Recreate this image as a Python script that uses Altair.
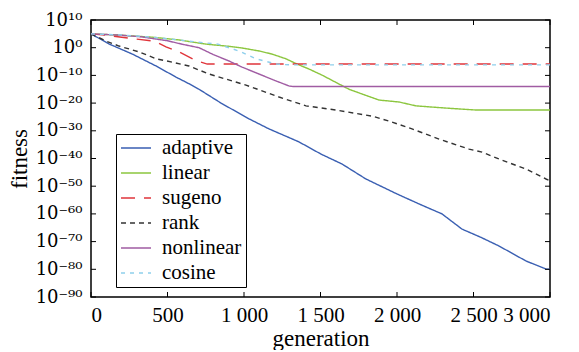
import altair as alt
import pandas as pd

# exponents (log10 of fitness)
adaptive_gen = [0,120,270,425,555,640,706,850,1033,1163,1359,1503,1641,1797,2000,2144,2294,2425,2550,2667,2843,2974,3000]
adaptive_exp = [5,1.3,-2.3,-6.6,-10.6,-13,-15,-20,-25.7,-29.3,-34,-38.4,-42,-47.4,-52.8,-56.4,-60,-65.5,-68.5,-71.6,-77,-79.9,-80]

linear_gen = [0,200,400,575,750,900,987,1100,1183,1274,1350,1425,1510,1600,1686,1771,1882,2013,2124,2320,2516,2700,3000]
linear_exp = [5,4.5,3.8,2.8,1.3,0.5,-0.1,-1.2,-2.3,-4,-6,-7.7,-9.9,-12.5,-15,-16.7,-18.9,-19.6,-21,-21.8,-22.5,-22.5,-22.5]

sugeno_gen = [0,100,300,420,490,575,680,760,3000]
sugeno_exp = [5,4.5,3.1,2.3,0.3,-1.5,-4.5,-5.9,-5.9]

rank_gen = [0,98,183,314,425,530,640,771,1013,1229,1405,1601,1837,1948,2098,2275,2471,2556,2667,2843,2974,3000]
rank_exp = [5,2.4,0.6,-1.5,-4,-5.2,-6.6,-9.5,-13.5,-17.8,-21,-22.5,-24.7,-26.5,-29.3,-33,-36.6,-37.7,-40.2,-43.8,-47.4,-48]

nonlinear_gen = [0,200,333,500,600,706,800,902,987,1098,1209,1294,1320,3000]
nonlinear_exp = [5,4.5,3.9,2.5,1.2,0,-2.5,-4.8,-7,-9.5,-12,-13.8,-14,-14]

cosine_gen = [0,200,400,575,700,830,967,1078,1209,1300,3000]
cosine_exp = [5,4.6,3.8,2.8,2,1.3,-1.2,-4,-5.9,-6.2,-6.2]

series_names = ["adaptive", "linear", "sugeno", "rank", "nonlinear", "cosine"]
series_colors = ["#3a5fb2", "#8cc63f", "#e0353b", "#333333", "#a05ca3", "#8ecfec"]
series_dashes = [[1, 0], [1, 0], [14, 9], [5, 4], [1, 0], [4, 5]]

x_ticks = [0, 500, 1000, 1500, 2000, 2500, 3000]
y_ticks = [10, 0, -10, -20, -30, -40, -50, -60, -70, -80, -90]
y_tick_labels = ["10¹⁰", "10⁰", "10⁻¹⁰", "10⁻²⁰", "10⁻³⁰", "10⁻⁴⁰", "10⁻⁵⁰", "10⁻⁶⁰", "10⁻⁷⁰", "10⁻⁸⁰", "10⁻⁹⁰"]

rows = []
for name, g, e in [("adaptive", adaptive_gen, adaptive_exp), ("linear", linear_gen, linear_exp),
                   ("sugeno", sugeno_gen, sugeno_exp), ("rank", rank_gen, rank_exp),
                   ("nonlinear", nonlinear_gen, nonlinear_exp), ("cosine", cosine_gen, cosine_exp)]:
    for gi, ei in zip(g, e):
        rows.append({"series": name, "generation": gi, "exp": ei})
df = pd.DataFrame(rows)

label_expr = " : ".join(f"datum.value == {v} ? '{l}'" for v, l in zip(y_ticks, y_tick_labels)) + " : ''"

W, H = 459, 277
FONT = "Liberation Serif, Times New Roman, serif"
FS = 21
TFS = 23

xscale = alt.Scale(domain=[0, 3000], nice=False)
yscale = alt.Scale(domain=[-90, 10], nice=False)

x_axis = alt.Axis(values=x_ticks, title="generation", ticks=False, domain=False, grid=False,
                  labelExpr="replace(format(datum.value, ',d'), ',', ' ')",
                  labelOverlap=False, labelPadding=7, titlePadding=2)
y_axis = alt.Axis(values=y_ticks, title="fitness", ticks=False, domain=False, grid=False,
                  labelExpr=label_expr, labelOverlap=False, labelPadding=9, titlePadding=4,
                  labelFont="DejaVu Serif", labelFontSize=18)

lines = alt.Chart(df).mark_line(strokeWidth=1.4).encode(
    x=alt.X("generation:Q", scale=xscale, axis=x_axis),
    y=alt.Y("exp:Q", scale=yscale, axis=y_axis),
    color=alt.Color("series:N", scale=alt.Scale(domain=series_names, range=series_colors),
                    legend=alt.Legend(title=None, orient="none", legendX=25, legendY=114,
                                      symbolType="stroke", symbolSize=900, symbolStrokeWidth=1.6,
                                      clipHeight=20, rowPadding=4, labelFontSize=FS, labelFont=FONT,
                                      labelColor="black", padding=4, strokeColor="black",
                                      fillColor="white", labelOffset=10)),
    strokeDash=alt.StrokeDash("series:N", scale=alt.Scale(domain=series_names, range=series_dashes),
                              legend=None),
    order=alt.Order("generation:Q"),
)

xt = pd.DataFrame({"generation": x_ticks})
yt = pd.DataFrame({"exp": y_ticks})

bottom_ticks = alt.Chart(xt).mark_rule(color="black", strokeWidth=1).encode(
    x=alt.X("generation:Q", scale=xscale, axis=x_axis), y=alt.value(H), y2=alt.value(H - 5))
top_ticks = alt.Chart(xt).mark_rule(color="black", strokeWidth=1).encode(
    x=alt.X("generation:Q", scale=xscale, axis=x_axis), y=alt.value(0), y2=alt.value(5))
left_ticks = alt.Chart(yt).mark_rule(color="black", strokeWidth=1).encode(
    y=alt.Y("exp:Q", scale=yscale, axis=y_axis), x=alt.value(0), x2=alt.value(5))
right_ticks = alt.Chart(yt).mark_rule(color="black", strokeWidth=1).encode(
    y=alt.Y("exp:Q", scale=yscale, axis=y_axis), x=alt.value(W), x2=alt.value(W - 5))

chart = alt.layer(lines, bottom_ticks, top_ticks, left_ticks, right_ticks).properties(
    width=W, height=H, padding={"left": 0, "top": 3, "right": 5, "bottom": 0}
).configure_view(stroke="black", strokeWidth=1.5).configure_axis(
    labelFont=FONT, titleFont=FONT, labelFontSize=FS, titleFontSize=TFS,
    labelColor="black", titleColor="black", titleFontWeight="normal", labelOverlap=False
)

chart.save("out.html", embed_options={"renderer": "svg", "actions": False})
